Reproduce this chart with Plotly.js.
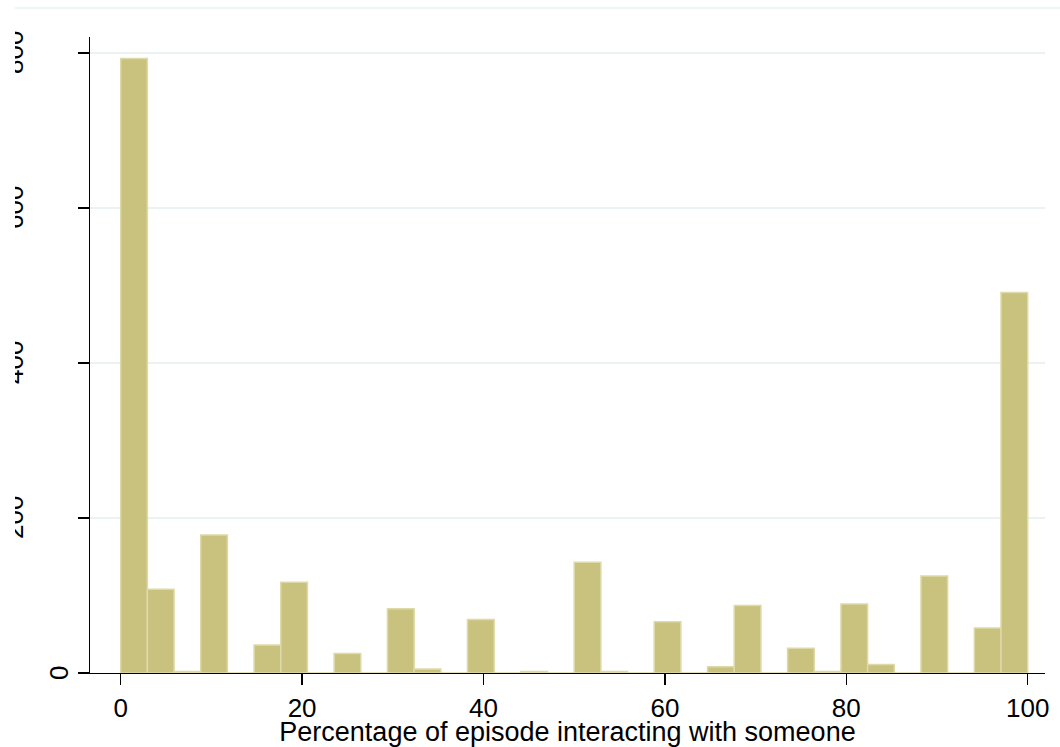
<!DOCTYPE html>
<html><head><meta charset="utf-8">
<script src="https://cdn.plot.ly/plotly-3.0.1.min.js"></script>
<style>
html,body{margin:0;padding:0;background:#fff;width:1060px;height:747px;overflow:hidden;}
#chart{position:absolute;left:15px;top:0;width:1045px;height:747px;}
</style></head><body><div id="chart"></div>
<script>
// Histogram of episode interaction percentage: 34 equal bins over 0-100
const binLow = 0;
const binHigh = 100;
const counts = [793, 108, 2, 178, 0, 36, 117, 0, 25, 0, 83, 5, 0, 69, 0, 2, 0,
                143, 2, 0, 66, 0, 8, 87, 0, 32, 2, 89, 11, 0, 125, 0, 58, 491];
const xTickVals = [0, 20, 40, 60, 80, 100];
const xTickText = ['0', '20', '40', '60', '80', '100'];
const yTickVals = [0, 200, 400, 600, 800];
const yTickText = ['0', '200', '400', '600', '800'];
const xTitle = 'Percentage of episode interacting with someone';

const binWidth = (binHigh - binLow) / counts.length;
const binCenters = counts.map((_, i) => binLow + binWidth * (i + 0.5));

const FONT = 'Liberation Sans, Arial, Helvetica, sans-serif';
const GRID = 'rgb(234,242,243)';

const trace = {
  type: 'bar',
  x: binCenters,
  y: counts,
  width: binWidth,
  marker: {color: 'rgb(201,194,127)', line: {color: 'rgb(222,217,168)', width: 1.5}},
  hoverinfo: 'x+y'
};

const annotations = yTickVals.map((v, i) => ({
  x: 0, xref: 'paper', xanchor: 'right',
  xshift: yTickText[i].length === 1 ? -14 : -59,
  y: v, yref: 'y', yanchor: 'middle',
  text: yTickText[i], textangle: -90, showarrow: false,
  font: {family: FONT, size: 26, color: '#000'}
}));

const layout = {
  width: 1045, height: 747,
  margin: {l: 75, r: 15, t: 37, b: 74},
  paper_bgcolor: '#fff', plot_bgcolor: '#fff',
  showlegend: false,
  bargap: 0,
  font: {family: FONT, size: 26, color: '#000'},
  xaxis: {
    range: [-3.385, 101.91],
    tickmode: 'array', tickvals: xTickVals, ticktext: xTickText,
    ticks: 'outside', ticklen: 11, tickwidth: 1.3, tickcolor: '#000',
    showline: true, linecolor: '#000', linewidth: 1.3,
    showgrid: false, zeroline: false,
    tickfont: {family: FONT, size: 26, color: '#000'},
    title: {text: xTitle, font: {family: FONT, size: 27, color: '#000'}, standoff: 1},
    automargin: false
  },
  yaxis: {
    range: [0, 820.6],
    tickmode: 'array', tickvals: yTickVals,
    ticks: 'outside', ticklen: 11, tickwidth: 1.3, tickcolor: '#000',
    showticklabels: false,
    showline: true, linecolor: '#000', linewidth: 1.3,
    showgrid: true, gridcolor: GRID, gridwidth: 2,
    zeroline: false, automargin: false
  },
  shapes: [{
    type: 'line', xref: 'paper', yref: 'paper',
    x0: -75 / 955, x1: 1 + 15 / 955, y0: 1 + 29 / 636, y1: 1 + 29 / 636,
    line: {color: GRID, width: 1.5}
  }],
  annotations: annotations
};

Plotly.newPlot('chart', [trace], layout, {displayModeBar: false, staticPlot: true});
</script></body></html>
